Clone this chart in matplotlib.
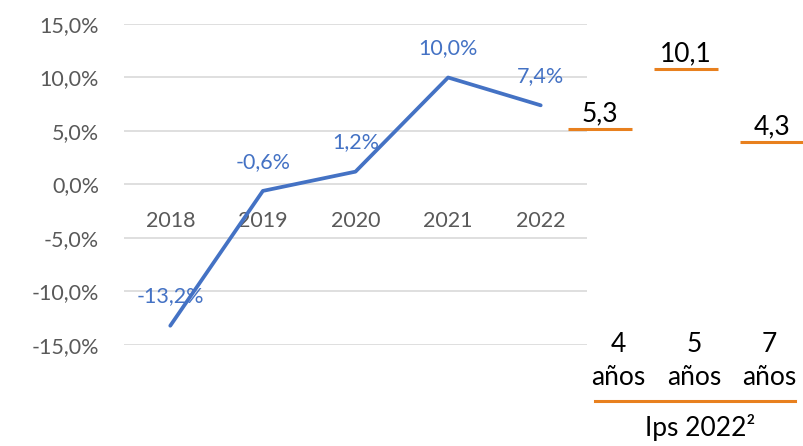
import matplotlib.pyplot as plt
import matplotlib.transforms as mtransforms

# real growth per year
years = ['2018', '2019', '2020', '2021', '2022']
growth = [-13.2, -0.6, 1.2, 10.0, 7.4]

# Ips 2022 by horizon
horizons = ['4\naños', '5\naños', '7\naños']
ips_values = [5.3, 10.1, 4.3]
ips_title = 'Ips 2022²'

BLUE = '#4472C4'
ORANGE = '#E8801E'
GRAY = '#595959'
GRID = '#D9D9D9'

plt.rcParams['font.family'] = ['Lato', 'DejaVu Sans']


def pct(v):
    return f'{v:.1f}%'.replace('.', ',')


fig = plt.figure(figsize=(8.04, 4.46), dpi=100)

# left panel: yearly line
ax = fig.add_axes([0.1542, 0.2265, 0.5759, 0.7197])
x = list(range(len(years)))
ax.plot(x, growth, color=BLUE, linewidth=2.7, solid_capstyle='round', zorder=3)
for xi, v in zip(x, growth):
    ax.annotate(pct(v), (xi, v), xytext=(0, 21), textcoords='offset points',
                ha='center', va='center', color=BLUE, fontsize=15.5)

ax.set_xlim(-0.5, len(years) - 0.5)
ax.set_ylim(-15, 15)
ax.set_yticks([-15, -10, -5, 0, 5, 10, 15])
ax.set_yticklabels([pct(t) for t in ax.get_yticks()])
ax.grid(axis='y', color=GRID, linewidth=1.2)
ax.set_axisbelow(True)
for s in ax.spines.values():
    s.set_visible(False)
ax.spines['bottom'].set_position(('data', 0))
ax.set_xticks(x)
ax.set_xticklabels(years)
ax.tick_params(axis='x', length=0, pad=19, labelsize=15.5, labelcolor=GRAY)
ax.tick_params(axis='y', length=0, pad=18, labelsize=15.5, labelcolor=GRAY)

# right panel: Ips levels
ax2 = fig.add_axes([0.6928, 0.2265, 0.3081, 0.7197])
ax2.set_xlim(-0.5, 2.38)
ax2.set_ylim(-11.86, 13.68)
ax2.axis('off')
pos = list(range(len(horizons)))
ax2.hlines(ips_values, [p - 0.37 for p in pos], [p + 0.37 for p in pos],
           color=ORANGE, linewidth=2.2)
for p, v in zip(pos, ips_values):
    ax2.annotate(f'{v:.1f}'.replace('.', ','), (p, v), xytext=(0, 2),
                 textcoords='offset points', ha='center', va='bottom',
                 fontsize=19, color='black')

# horizon labels sit a little tighter than the level marks
tr = mtransforms.blended_transform_factory(ax2.transData, ax2.transAxes)
for p, lab in zip(pos, horizons):
    ax2.text(0.21 + 0.88 * p, -0.05, lab, transform=tr, ha='center',
             va='center', fontsize=19, linespacing=1.4)
ax2.plot([-0.06, 2.27], [-0.175, -0.175], transform=tr, color=ORANGE,
         linewidth=2.2, clip_on=False)
ax2.text(1.16, -0.258, ips_title, transform=tr, ha='center', va='center',
         fontsize=19)

fig.savefig('out.png', dpi=100)
